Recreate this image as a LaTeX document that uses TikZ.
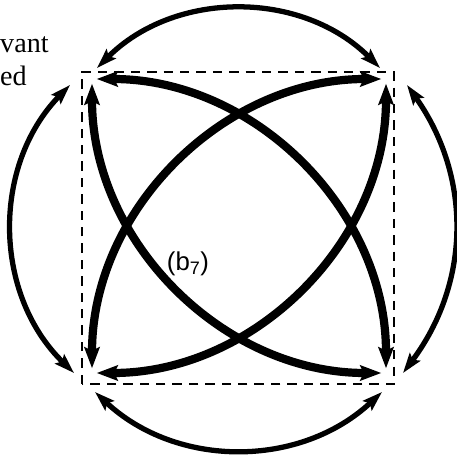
\documentclass[tikz,border=0pt]{standalone}
\usepackage{fontspec}
\setmainfont{Liberation Serif}
\newfontfamily\labelfont{Liberation Sans}
\usetikzlibrary{arrows.meta}

\begin{document}
\begin{tikzpicture}[x=0.03cm, y=0.03cm,
        outer/.style={line width=4.5pt, >={Stealth[length=17pt,width=11pt,inset=3pt]}, <->},
        inner/.style={line width=7pt, >={Stealth[length=18pt,width=13pt,inset=3pt]}, <->,
            shorten <=4pt, shorten >=4pt}]
        \clip (0,0) rectangle (457,454);

        % corners of the square
        \coordinate (TopLeft) at (92,375);
        \coordinate (TopRight) at (386,375);
        \coordinate (BottomLeft) at (92,81);
        \coordinate (BottomRight) at (386,81);

        % ends of the outer arcs
        \coordinate (TopLeftUp) at (97,386);
        \coordinate (TopRightUp) at (380,386);
        \coordinate (TopLeftOut) at (70,369);
        \coordinate (BottomLeftOut) at (74,81);
        \coordinate (BottomLeftDown) at (95,62);
        \coordinate (BottomRightDown) at (382,62);
        \coordinate (TopRightOut) at (407,369);
        \coordinate (BottomRightOut) at (403,81);

        \draw [line width=2pt, dash pattern=on 8pt off 6pt] (82,70) rectangle (394,382);

        \draw [inner] (TopLeft) to[bend left=45] (BottomRight);
        \draw [inner] (TopLeft) to[bend right=45] (BottomRight);
        \draw [inner] (BottomLeft) to[bend left=45] (TopRight);
        \draw [inner] (BottomLeft) to[bend right=45] (TopRight);

        \draw [outer] (TopLeftUp) to[bend left=45] (TopRightUp);
        \draw [outer] (BottomLeftOut) to[bend left=45] (TopLeftOut);
        \draw [outer] (BottomLeftDown) to[bend right=43] (BottomRightDown);
        \draw [outer] (TopRightOut) to[bend left=36] (BottomRightOut);

        \node (TextTop)[anchor=base west, inner sep=0pt, font=\fontsize{24}{28}\selectfont] at (0,401) {vant};
        \node (TextBottom)[anchor=base west, inner sep=0pt, font=\fontsize{24}{28}\selectfont] at (0,368) {ed};
        \node (Label)[inner sep=0pt, font=\labelfont\fontsize{22}{26}\selectfont] at (188,190) {(b\textsubscript{7})};
    \end{tikzpicture}
\end{document}
